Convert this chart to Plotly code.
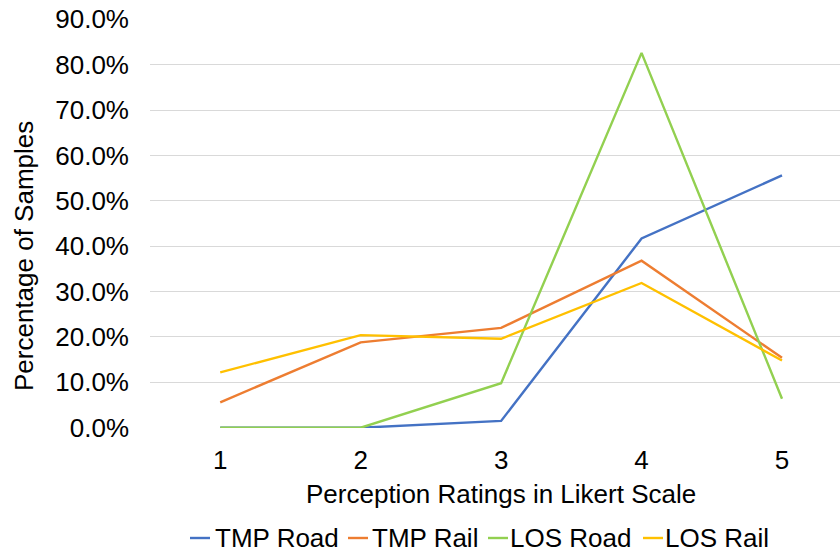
import plotly.graph_objects as go

# Likert ratings and share of respondents (fraction of samples)
ratings = [1, 2, 3, 4, 5]
tmp_road = [0.0, 0.0, 0.015, 0.417, 0.556]
tmp_rail = [0.056, 0.188, 0.220, 0.368, 0.154]
los_road = [0.0, 0.0, 0.098, 0.826, 0.064]
los_rail = [0.122, 0.204, 0.196, 0.319, 0.148]

series_names = ["TMP Road", "TMP Rail", "LOS Road", "LOS Rail"]
series_values = [tmp_road, tmp_rail, los_road, los_rail]
series_colors = ["#4472C4", "#ED7D31", "#92D050", "#FFC000"]

y_ticks = [i / 10 for i in range(10)]

FONT = "Liberation Sans, Arial, sans-serif"
TEXT = "#000000"

W, H = 840, 552
ML, MR, MT, MB = 150, 0, 19, 124
PW, PH = W - ML - MR, H - MT - MB


def px_x(px):
    return (px - ML) / PW


def px_y(py):
    return (H - MB - py) / PH


fig = go.Figure()
for name, vals, col in zip(series_names, series_values, series_colors):
    fig.add_trace(go.Scatter(
        x=ratings, y=vals, name=name, mode="lines",
        line=dict(color=col, width=2.4),
        showlegend=False, hoverinfo="x+y+name",
    ))

# legend row below the axis title: short line swatch followed by the label
swatch_left = [190, 348, 488, 643]
label_left = [213, 370, 508, 663]
legend_y = px_y(538)
for name, col, sx, lx in zip(series_names, series_colors, swatch_left, label_left):
    fig.add_shape(type="line", xref="paper", yref="paper",
                  x0=px_x(sx), x1=px_x(sx + 20), y0=legend_y, y1=legend_y,
                  line=dict(color=col, width=2.4))
    fig.add_annotation(xref="paper", yref="paper", x=px_x(lx), y=legend_y,
                       xanchor="left", yanchor="middle", showarrow=False,
                       text=name, font=dict(family=FONT, size=26, color=TEXT))

# axis titles
fig.add_annotation(xref="paper", yref="paper", x=px_x(501), y=px_y(494),
                   xanchor="center", yanchor="middle", showarrow=False,
                   text="Perception Ratings in Likert Scale",
                   font=dict(family=FONT, size=26, color=TEXT))
fig.add_annotation(xref="paper", yref="paper", x=px_x(24), y=px_y(256),
                   xanchor="center", yanchor="middle", showarrow=False,
                   textangle=-90, text="Percentage of Samples",
                   font=dict(family=FONT, size=26, color=TEXT))

fig.update_layout(
    width=W, height=H,
    margin=dict(l=ML, r=MR, t=MT, b=MB, pad=0),
    paper_bgcolor="white", plot_bgcolor="white",
    font=dict(family=FONT, size=26, color=TEXT),
    showlegend=False,
    xaxis=dict(
        range=[0.5, 5.413], tickmode="array", tickvals=ratings,
        ticktext=[str(r) for r in ratings],
        showgrid=False, zeroline=False, showline=False,
        ticks="", ticklabelstandoff=14,
        tickfont=dict(family=FONT, size=26, color=TEXT),
    ),
    yaxis=dict(
        range=[-0.0006, 0.9006], tickmode="array", tickvals=y_ticks + [0.9],
        tickformat=".1%", showgrid=True, gridcolor="#D9D9D9", gridwidth=1,
        zeroline=False, showline=False, ticks="", ticklabelstandoff=20,
        tickfont=dict(family=FONT, size=26, color=TEXT),
    ),
)

fig.write_html("out.html")
